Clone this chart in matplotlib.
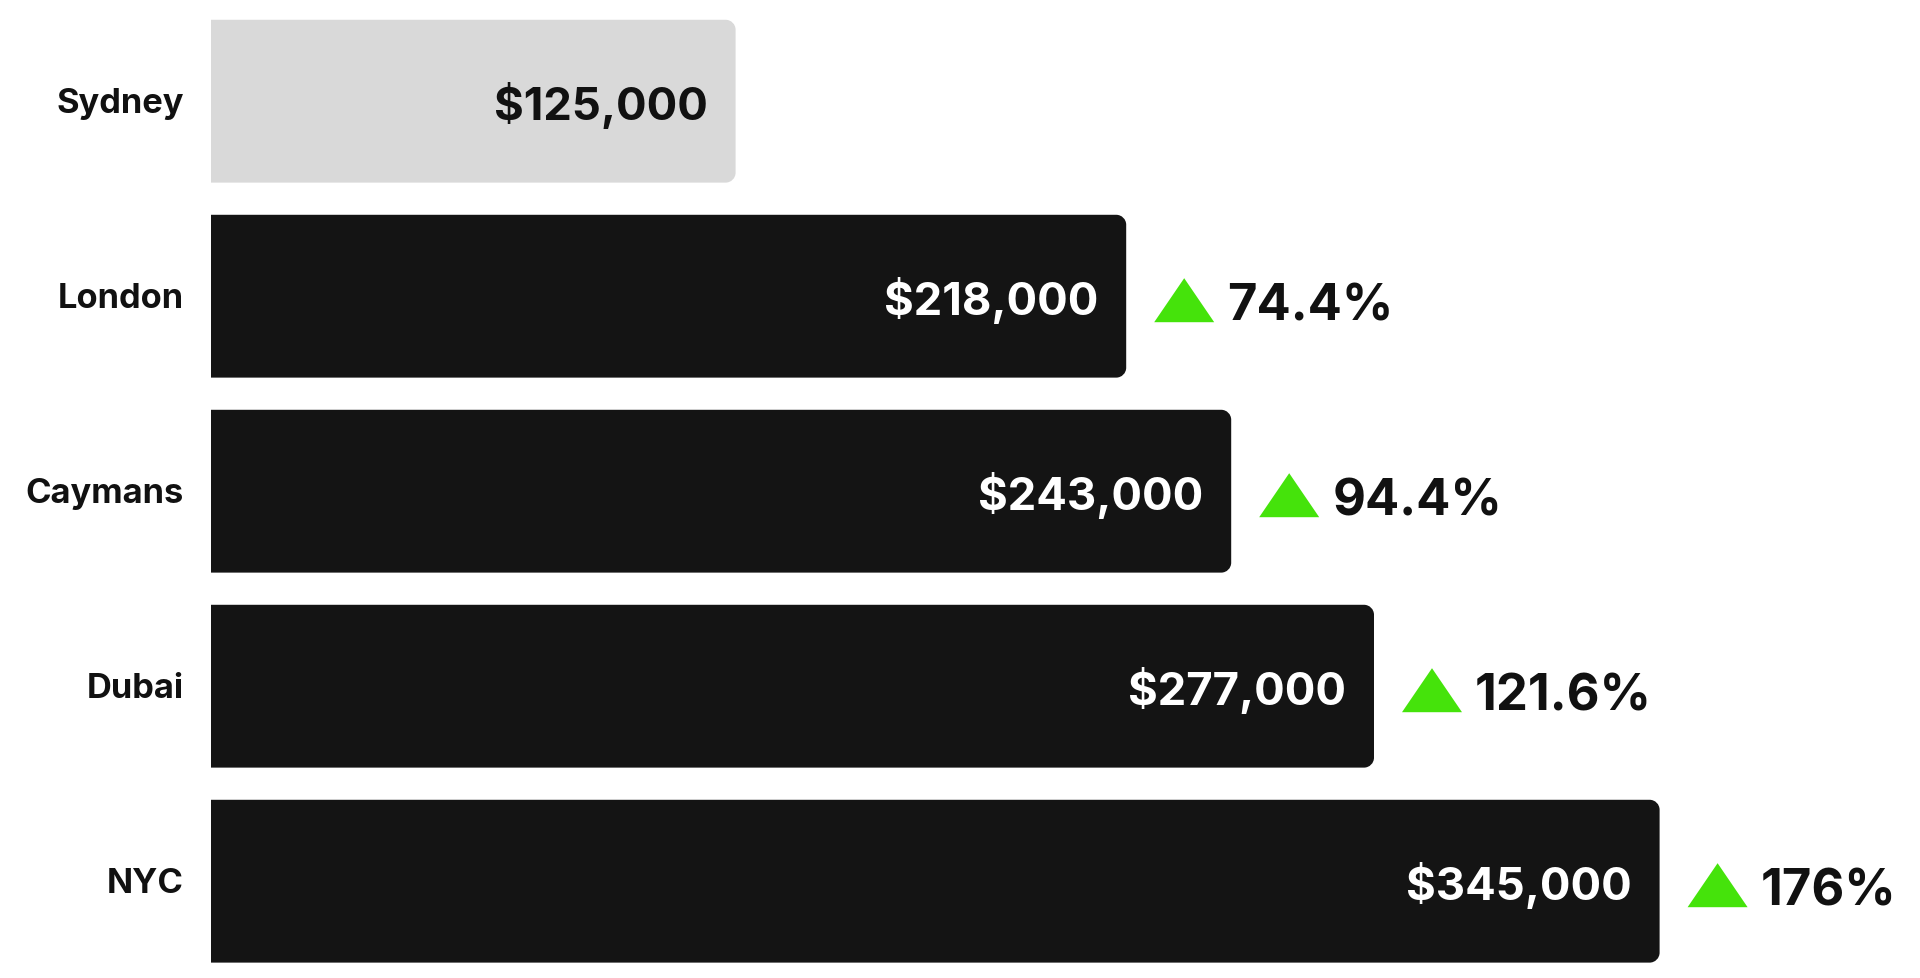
import matplotlib
matplotlib.use("Agg")
import matplotlib.pyplot as plt
from matplotlib.patches import PathPatch, Polygon
from matplotlib.path import Path

# data
cities = ["Sydney", "London", "Caymans", "Dubai", "NYC"]
salaries = [125000, 218000, 243000, 277000, 345000]
changes = [None, "74.4%", "94.4%", "121.6%", "176%"]

plt.rcParams['font.family'] = ['Inter', 'DejaVu Sans']

W, H = 1920, 979
fig = plt.figure(figsize=(W / 100, H / 100), dpi=100)
ax = fig.add_axes([210.6 / W, 0, 1680 / W, 1])

px_x = 1680 / 400000.0    # pixels per dollar
px_y = 195.0              # pixels per row
ax.set_xlim(0, 400000)
ax.set_ylim((H - 102.2) / px_y, -102.2 / px_y)
ax.axis('off')

bar_h = 0.835
rx = 10 / px_x
ry = 10 / px_y
k = 0.5523


def right_round_bar(x1, y0, y1):
    # bar with square left end and rounded right corners
    verts = [(0, y0), (x1 - rx, y0),
             (x1 - rx + k * rx, y0), (x1, y0 + ry - k * ry), (x1, y0 + ry),
             (x1, y1 - ry),
             (x1, y1 - ry + k * ry), (x1 - rx + k * rx, y1), (x1 - rx, y1),
             (0, y1), (0, y0)]
    codes = [Path.MOVETO, Path.LINETO,
             Path.CURVE4, Path.CURVE4, Path.CURVE4,
             Path.LINETO,
             Path.CURVE4, Path.CURVE4, Path.CURVE4,
             Path.LINETO, Path.CLOSEPOLY]
    return Path(verts, codes)


for i, (city, val, ch) in enumerate(zip(cities, salaries, changes)):
    face = "#d9d9d9" if i == 0 else "#141414"
    txt_col = "#111111" if i == 0 else "white"
    ax.add_patch(PathPatch(right_round_bar(val, i - bar_h / 2, i + bar_h / 2),
                           fc=face, ec="none"))

    ax.text(-27 / px_x, i + 11 / px_y, city, ha='right', va='baseline',
            fontsize=24.8, fontweight='bold', color="#111111", clip_on=False)
    ax.text(val - 28 / px_x, i + 18 / px_y, "${:,}".format(val), ha='right',
            va='baseline', fontsize=32.7, fontweight='bold', color=txt_col)

    if ch is not None:
        x0 = val + 28 / px_x
        x1 = val + 88 / px_x
        tri = Polygon([(x0, i + 26 / px_y), (x1, i + 26 / px_y),
                       ((x0 + x1) / 2, i - 18 / px_y)],
                      closed=True, fc="#45e30b", ec="none")
        ax.add_patch(tri)
        ax.text(val + 101 / px_x, i + 23 / px_y, ch, ha='left', va='baseline',
                fontsize=36.5, fontweight='bold', color="#111111")

fig.savefig("out.png", dpi=100, facecolor="white")
